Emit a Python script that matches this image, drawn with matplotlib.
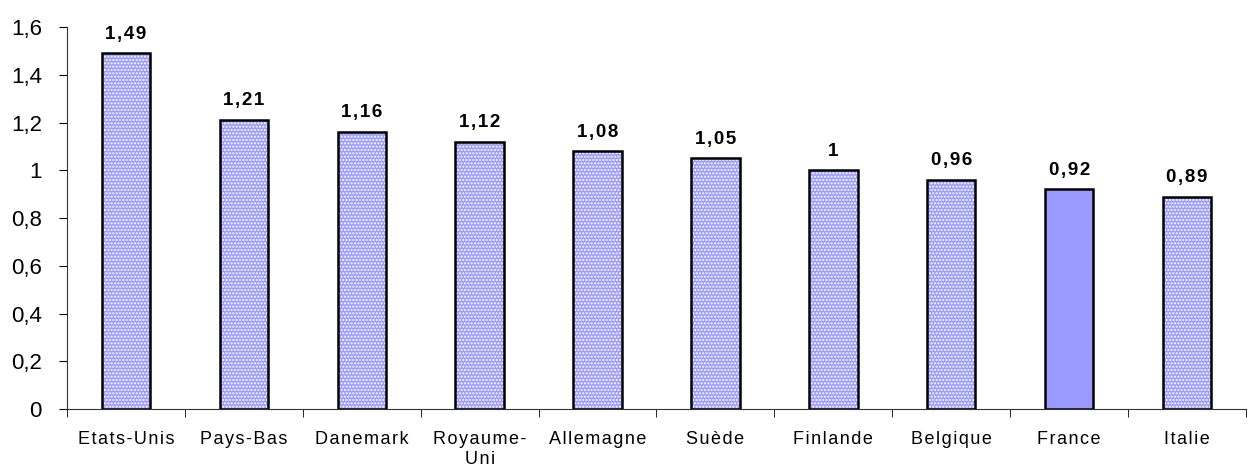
import numpy as np
import matplotlib
matplotlib.use("Agg")
import matplotlib.pyplot as plt

pays = ["Etats-Unis", "Pays-Bas", "Danemark", "Royaume-\nUni", "Allemagne",
        "Suède", "Finlande", "Belgique", "France", "Italie"]
valeurs = [1.49, 1.21, 1.16, 1.12, 1.08, 1.05, 1.00, 0.96, 0.92, 0.89]
etiquettes = ["1,49", "1,21", "1,16", "1,12", "1,08", "1,05", "1", "0,96", "0,92", "0,89"]
graduations = ["0", "0,2", "0,4", "0,6", "0,8", "1", "1,2", "1,4", "1,6"]
pays_surligne = "France"

plt.rcParams['font.family'] = ['Liberation Sans', 'DejaVu Sans']


def espace(txt, sep="\u200a"):
    # imite l'espacement large des lettres de l'original
    return "\n".join(sep.join(ligne) for ligne in txt.split("\n"))


fig = plt.figure(figsize=(12.49, 4.68), dpi=100)
ax = fig.add_axes([0.0536, 0.126, 0.944, 0.816])

x = np.arange(len(pays))
largeur = 0.41
for xi, v, nom in zip(x, valeurs, pays):
    if nom == pays_surligne:
        ax.bar(xi, v, largeur, color="#9999ff", edgecolor="black", linewidth=1.8, zorder=2)
    else:
        ax.bar(xi, v, largeur, color="#9c9cfc", edgecolor="white", hatch=".....",
               linewidth=0, zorder=2)
        ax.bar(xi, v, largeur, fill=False, edgecolor="black", linewidth=1.8, zorder=3)

for xi, v, lab in zip(x, valeurs, etiquettes):
    ax.text(xi, v + 0.045, espace(lab), ha="center", va="bottom", fontsize=13.5,
            fontweight="bold")

ax.set_xlim(-0.5, len(pays) - 0.5)
ax.set_ylim(0, 1.6)
ax.set_yticks(np.linspace(0, 1.6, len(graduations)))
ax.set_yticklabels(graduations, fontsize=16)
ax.set_xticks(x)
ax.set_xticklabels([espace(p) for p in pays], fontsize=13, va="top", linespacing=1.2)
ax.tick_params(axis="x", which="major", length=0, pad=16)
ax.set_xticks(np.arange(-0.5, len(pays), 1), minor=True)
ax.tick_params(axis="x", which="minor", length=6, direction="out")
ax.tick_params(axis="y", length=6, direction="out", pad=12)

for s in ["top", "right"]:
    ax.spines[s].set_visible(False)
ax.spines["left"].set_color("#333333")
ax.spines["bottom"].set_color("#333333")

fig.savefig("out.png", dpi=100)
